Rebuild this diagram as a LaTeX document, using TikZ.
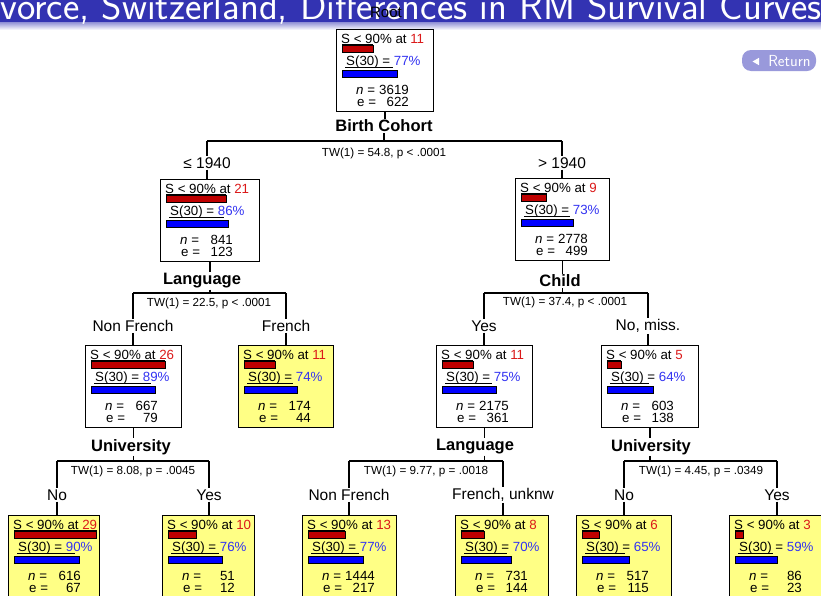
\documentclass[tikz,border=0pt]{standalone}
\usepackage{fontspec}
\usepackage{tikz}
\usetikzlibrary{calc, positioning, shapes.misc, arrows.meta}
\newfontfamily\treefont{Liberation Sans}
\definecolor{beamerblue}{rgb}{0.2, 0.2, 0.7}
\definecolor{btnblue}{rgb}{0.6, 0.6, 0.86}
\definecolor{barred}{rgb}{0.75, 0, 0}
\definecolor{barblue}{rgb}{0, 0, 1}
\definecolor{numred}{rgb}{0.86, 0.1, 0.1}
\definecolor{numblue}{rgb}{0.2, 0.2, 0.95}
\definecolor{leafyellow}{rgb}{1, 1, 0.52}

\tikzset{
    survnode/.style = {draw, line width = 1.3pt, minimum height = 82pt,
        inner sep = 0pt, anchor = north west},
    boxtxt/.style = {font = \treefont\fontsize{13.3}{14}\selectfont, inner sep = 0pt},
    splitlbl/.style = {font = \treefont\bfseries\fontsize{16.5}{18}\selectfont, inner sep = 1pt},
    twlbl/.style = {font = \treefont\fontsize{11.7}{13}\selectfont, inner sep = 0pt},
    branchlbl/.style = {font = \treefont\fontsize{15.5}{17}\selectfont, inner sep = 1pt},
    link/.style = {line width = 1.4pt},
}

% survival box: name, left, top, width, months, S(30), n, e, fill
\newcommand{\survbox}[9]{%
    \node[survnode, fill = #9, minimum width = #4pt] (#1) at (#2 , #3) {};
    \draw[fill = barred, line width = 0.6pt] ([shift = {(6 , 16)}]#1.north west)
        rectangle ++({2.85*#5} , 7); % red bar
    \draw[fill = barblue, line width = 0.6pt] ([shift = {(6 , 41)}]#1.north west)
        rectangle ++({0.72*#6} , 7); % blue bar
    \draw[line width = 0.4pt] ([shift = {(6 , 14.8)}]#1.north west) -- ++({2.85*#5} , 0);
    \draw[line width = 0.4pt] ([shift = {(9 , 37.8)}]#1.north west) -- ++({0.72*#6 - 7} , 0);
    \node[boxtxt, anchor = base west] (#1-s) at ([shift = {(5 , 14)}]#1.north west)
        {S < 90\% at \textcolor{numred}{#5}};
    \node[boxtxt, anchor = base west] (#1-p) at ([shift = {(10 , 36)}]#1.north west)
        {S(30) = \textcolor{numblue}{#6\%}};
    \node[boxtxt, anchor = base west] (#1-n) at ([shift = {(20 , 65)}]#1.north west)
        {\textit{n} =};
    \node[boxtxt, anchor = base east] (#1-nv) at ([shift = {(73 , 65)}]#1.north west) {#7};
    \node[boxtxt, anchor = base west] (#1-e) at ([shift = {(21 , 77)}]#1.north west) {e =};
    \node[boxtxt, anchor = base east] (#1-ev) at ([shift = {(73 , 77)}]#1.north west) {#8};
}

\begin{document}
\begin{tikzpicture}[x = 1pt, y = -1pt]
    \useasboundingbox (0 , 0) rectangle (821 , 595);
    \clip (0 , 0) rectangle (821 , 595);
    % frame title and button
    \fill[beamerblue] (0 , 0) rectangle (821 , 22);
    \shade[top color = beamerblue!55, bottom color = white] (0 , 22) rectangle (821 , 30);
    \node[anchor = base west, text = white, inner sep = 0pt,
        font = \sffamily\fontsize{39}{42}\selectfont] (title) at (0 , 19)
        {vorce, Switzerland, Differences in RM Survival Curves};
    \node[fill = btnblue, rounded corners = 9pt, minimum width = 74pt,
        minimum height = 21pt, inner sep = 0pt] (retbtn) at (779 , 60.5) {};
    \node[text = white, inner sep = 0pt, font = \sffamily\fontsize{16}{18}\selectfont]
        (rettxt) at (789.5 , 61) {Return};
    \fill[white] (752.5 , 61.5) -- (759 , 57.8) -- (759 , 65.2) -- cycle;
    \node[font = \treefont\fontsize{15}{17}\selectfont, inner sep = 0pt] (rootlbl)
        at (386 , 12) {Root};

    % level 0
    \survbox{root}{336}{29}{97}{11}{77}{3619}{622}{white}
    \node[splitlbl] (cohort) at (384 , 126) {Birth Cohort};
    \coordinate (c1l) at (207 , 141);
    \coordinate (c1r) at (562 , 141);
    \node[twlbl] (tw1) at (384 , 153) {TW(1) = 54.8, p < .0001};
    \node[branchlbl] (le1940) at (207 , 163) {≤ 1940};
    \node[branchlbl] (gt1940) at (562 , 163) {> 1940};
    \draw[link] (root.south) -- (root.south |- cohort.north);
    \draw[link] (cohort.south) -- (cohort.south |- c1l);
    \draw[link] (c1l) -- (c1r);
    \draw[link] (c1l) -- (le1940.north); % left
    \draw[link] (c1r) -- (gt1940.north); % right

    % level 1
    \survbox{bL}{160}{179}{99}{21}{86}{841}{123}{white}
    \survbox{bR}{515}{178}{94}{9}{73}{2778}{499}{white}
    \draw[link] (le1940.south) -- (le1940.south |- bL.north);
    \draw[link] (gt1940.south) -- (gt1940.south |- bR.north);
    \node[splitlbl] (lang1) at (202 , 281) {Language};
    \coordinate (c2l) at (133 , 293);
    \coordinate (c2r) at (286 , 293);
    \node[twlbl] (tw2) at (209 , 303) {TW(1) = 22.5, p < .0001};
    \node[branchlbl] (nonfr1) at (133 , 326) {Non French};
    \node[branchlbl] (fr1) at (286 , 326) {French};
    \draw[link] (bL.south) -- (bL.south |- lang1.north);
    \draw[link] (bL.south |- lang1.south) -- (bL.south |- c2l);
    \draw[link] (c2l) -- (c2r);
    \draw[link] (c2l) -- (nonfr1.north);
    \draw[link] (c2r) -- (fr1.north);
    \node[splitlbl] (child) at (560 , 281) {Child};
    \coordinate (c3l) at (484 , 293);
    \coordinate (c3r) at (648 , 293);
    \node[twlbl] (tw3) at (565 , 302) {TW(1) = 37.4, p < .0001};
    \node[branchlbl] (yes1) at (484 , 326) {Yes};
    \node[branchlbl] (nomiss) at (648 , 326) {No, miss.};
    \draw[link] (bR.south) -- (bR.south |- child.north);
    \draw[link] (bR.south |- child.south) -- (bR.south |- c3l);
    \draw[link] (c3l) -- (c3r);
    \draw[link] (c3l) -- (yes1.north);
    \draw[link] (c3r) -- (nomiss.north);

    % level 2
    \survbox{bLL}{85}{345}{96}{26}{89}{667}{79}{white}
    \survbox{bLR}{238}{345}{95}{11}{74}{174}{44}{leafyellow}
    \survbox{bRL}{436}{345}{96}{11}{75}{2175}{361}{white}
    \survbox{bRR}{601}{345}{97}{5}{64}{603}{138}{white}
    \draw[link] (nonfr1.south) -- (nonfr1.south |- bLL.north);
    \draw[link] (fr1.south) -- (fr1.south |- bLR.north);
    \draw[link] (yes1.south) -- (yes1.south |- bRL.north);
    \draw[link] (nomiss.south) -- (nomiss.south |- bRR.north);
    % University (left)
    \node[splitlbl] (univ1) at (131 , 447) {University};
    \coordinate (c4l) at (57 , 461);
    \coordinate (c4r) at (209 , 461);
    \node[twlbl] (tw4) at (133 , 471) {TW(1) = 8.08, p = .0045};
    \node[branchlbl] (no1) at (57 , 495) {No};
    \node[branchlbl] (yes2) at (209 , 495) {Yes};
    \draw[link] (bLL.south) -- (bLL.south |- univ1.north);
    \draw[link] (bLL.south |- univ1.south) -- (bLL.south |- c4l);
    \draw[link] (c4l) -- (c4r);
    \draw[link] (c4l) -- (no1.north);
    \draw[link] (c4r) -- (yes2.north);
    % Language
    \node[splitlbl] (lang2) at (475 , 447) {Language};
    \coordinate (c5l) at (349 , 461);
    \coordinate (c5r) at (503 , 461);
    \node[twlbl] (tw5) at (426 , 471) {TW(1) = 9.77, p = .0018};
    \node[branchlbl] (nonfr2) at (349 , 495) {Non French};
    \node[branchlbl] (frunk) at (503 , 495) {French, unknw};
    \draw[link] (bRL.south) -- (bRL.south |- lang2.north);
    \draw[link] (bRL.south |- lang2.south) -- (bRL.south |- c5l);
    \draw[link] (c5l) -- (c5r);
    \draw[link] (c5l) -- (nonfr2.north);
    \draw[link] (c5r) -- (frunk.north);
    % University (right)
    \node[splitlbl] (univ2) at (651 , 447) {University};
    \coordinate (c6l) at (624 , 461);
    \coordinate (c6r) at (777 , 461);
    \node[twlbl] (tw6) at (701 , 471) {TW(1) = 4.45, p = .0349};
    \node[branchlbl] (no2) at (624 , 495) {No};
    \node[branchlbl] (yes3) at (777 , 495) {Yes};
    \draw[link] (bRR.south) -- (bRR.south |- univ2.north);
    \draw[link] (bRR.south |- univ2.south) -- (bRR.south |- c6l);
    \draw[link] (c6l) -- (c6r);
    \draw[link] (c6l) -- (no2.north);
    \draw[link] (c6r) -- (yes3.north);

    % leaves
    \survbox{b1}{8}{515}{91}{29}{90}{616}{67}{leafyellow}
    \survbox{b2}{162}{515}{92}{10}{76}{51}{12}{leafyellow}
    \survbox{b3}{302}{515}{94}{13}{77}{1444}{217}{leafyellow}
    \survbox{b4}{455}{515}{93}{8}{70}{731}{144}{leafyellow}
    \survbox{b5}{576}{515}{95}{6}{65}{517}{115}{leafyellow}
    \survbox{b6}{729}{515}{93}{3}{59}{86}{23}{leafyellow}
    \draw[link] (no1.south) -- (no1.south |- b1.north);
    \draw[link] (yes2.south) -- (yes2.south |- b2.north);
    \draw[link] (nonfr2.south) -- (nonfr2.south |- b3.north);
    \draw[link] (frunk.south) -- (frunk.south |- b4.north);
    \draw[link] (no2.south) -- (no2.south |- b5.north);
    \draw[link] (yes3.south) -- (yes3.south |- b6.north);
\end{tikzpicture}
\end{document}
